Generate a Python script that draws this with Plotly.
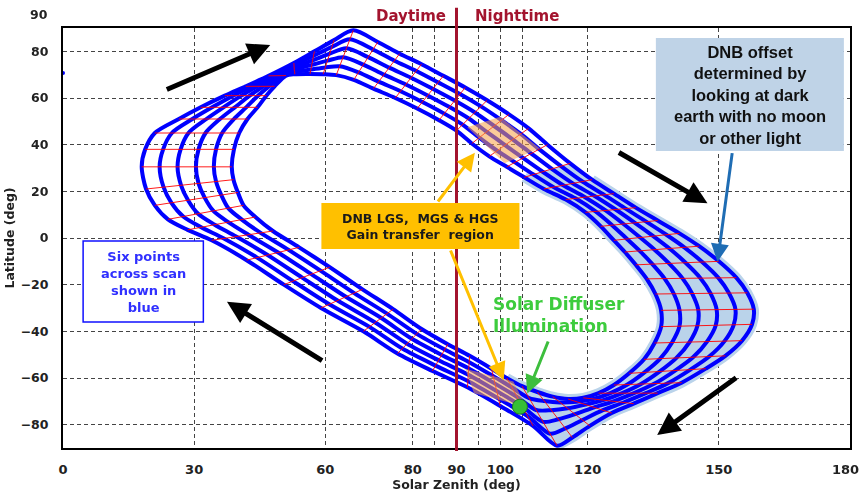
import plotly.graph_objects as go

# ---------------- data ----------------
# six scan positions, sampled at the same orbit instants (stations)
scan1_zenith = [18.0, 18.8, 21.0, 26.5, 31.5, 37.0, 41.8, 47.0, 52.8, 57.5, 62.0, 66.4, 72.0, 77.0, 82.0, 87.0, 92.0, 97.0, 102.0, 106.5, 110.8, 116.0, 121.0, 126.0, 131.0, 136.0, 141.0, 145.5, 150.0, 154.0, 156.5, 158.0, 157.6, 155.3, 151.5, 147.0, 141.5, 136.0, 130.5, 125.5, 120.5, 116.5, 113.0, 107.5, 100.0, 92.5, 84.5, 76.5, 68.7, 59.0, 50.5, 42.0, 34.0, 28.5, 24.0, 21.0, 19.0]
scan1_lat = [30.5, 38.0, 45.0, 51.0, 56.0, 61.0, 65.0, 69.5, 75.0, 80.0, 84.8, 89.0, 84.0, 79.0, 74.5, 69.5, 64.5, 59.0, 53.0, 47.0, 40.0, 32.0, 25.0, 19.0, 13.0, 7.5, 2.0, -3.5, -10.0, -17.0, -23.5, -30.5, -37.0, -44.0, -50.5, -56.0, -62.0, -66.5, -71.0, -75.0, -80.5, -85.5, -89.0, -80.5, -72.0, -64.0, -57.0, -49.5, -40.0, -30.0, -20.0, -9.5, -1.0, 3.5, 8.0, 14.0, 21.0]

scan2_zenith = [22.1, 22.9, 24.9, 29.6, 34.1, 38.9, 43.1, 47.8, 52.8, 57.3, 61.5, 65.6, 70.9, 75.8, 80.8, 85.8, 90.8, 95.6, 100.3, 104.7, 108.9, 113.9, 118.8, 123.8, 128.7, 133.4, 138.0, 142.1, 146.2, 149.9, 152.3, 153.8, 153.4, 151.3, 147.8, 143.5, 138.4, 133.3, 128.2, 123.5, 118.8, 114.9, 111.4, 106.3, 99.6, 92.6, 85.2, 77.6, 70.1, 60.9, 52.6, 44.4, 36.8, 31.6, 27.5, 24.8, 23.0]
scan2_lat = [30.5, 38.0, 45.0, 51.0, 56.0, 61.0, 65.0, 69.5, 74.0, 78.1, 81.9, 85.2, 80.8, 76.0, 71.6, 66.7, 61.7, 56.4, 50.5, 44.6, 38.1, 30.8, 24.2, 18.5, 12.6, 7.0, 1.4, -4.0, -10.3, -17.1, -23.6, -30.6, -37.2, -44.2, -50.8, -56.4, -62.2, -66.5, -70.5, -73.8, -78.0, -81.6, -83.9, -76.4, -68.8, -61.3, -54.7, -47.4, -38.1, -28.4, -18.5, -8.4, -0.2, 4.6, 9.2, 15.1, 21.8]

scan3_zenith = [26.2, 26.9, 28.7, 32.8, 36.7, 40.8, 44.4, 48.6, 52.9, 57.1, 61.0, 64.8, 69.8, 74.6, 79.6, 84.6, 89.6, 94.2, 98.6, 102.9, 107.1, 111.8, 116.6, 121.6, 126.4, 130.8, 135.0, 138.7, 142.4, 145.8, 148.1, 149.5, 149.3, 147.3, 144.1, 140.0, 135.3, 130.6, 125.9, 121.5, 117.1, 113.3, 109.8, 105.1, 99.2, 92.7, 85.9, 78.7, 71.4, 62.8, 54.7, 46.8, 39.6, 34.7, 30.9, 28.6, 27.0]
scan3_lat = [30.5, 38.0, 45.0, 51.0, 56.0, 61.0, 65.0, 69.5, 73.1, 76.1, 79.0, 81.3, 77.5, 73.0, 68.7, 63.9, 58.9, 53.8, 48.0, 42.2, 36.2, 29.6, 23.4, 18.0, 12.2, 6.5, 0.8, -4.5, -10.6, -17.2, -23.7, -30.7, -37.4, -44.4, -51.1, -56.8, -62.4, -66.5, -70.0, -72.6, -75.5, -77.7, -78.8, -72.3, -65.6, -58.6, -52.4, -45.3, -36.2, -26.8, -17.0, -7.3, 0.6, 5.7, 10.4, 16.2, 22.6]

scan4_zenith = [30.4, 31.0, 32.6, 35.9, 39.3, 42.7, 45.8, 49.4, 52.9, 56.9, 60.5, 64.1, 68.7, 73.4, 78.4, 83.4, 88.4, 92.8, 96.9, 101.1, 105.2, 109.7, 114.4, 119.4, 124.1, 128.2, 132.0, 135.3, 138.6, 141.7, 143.9, 145.3, 145.1, 143.3, 140.3, 136.5, 132.2, 127.9, 123.6, 119.5, 115.4, 111.7, 108.2, 103.9, 98.8, 92.8, 86.6, 79.8, 72.8, 64.7, 56.8, 49.2, 42.4, 37.8, 34.4, 32.4, 31.0]
scan4_lat = [30.5, 38.0, 45.0, 51.0, 56.0, 61.0, 65.0, 69.5, 72.1, 74.2, 76.0, 77.5, 74.3, 70.0, 65.8, 61.1, 56.1, 51.2, 45.5, 39.8, 34.3, 28.4, 22.6, 17.5, 11.8, 6.0, 0.2, -5.0, -10.9, -17.3, -23.8, -30.8, -37.6, -44.6, -51.4, -57.2, -62.6, -66.5, -69.5, -71.4, -73.0, -73.8, -73.7, -68.2, -62.4, -55.9, -50.1, -43.2, -34.3, -25.2, -15.5, -6.2, 1.4, 6.8, 11.6, 17.3, 23.4]

scan5_zenith = [34.5, 35.0, 36.4, 39.1, 41.9, 44.6, 47.1, 50.2, 53.0, 56.7, 60.0, 63.3, 67.6, 72.2, 77.2, 82.2, 87.2, 91.4, 95.2, 99.3, 103.4, 107.6, 112.2, 117.2, 121.8, 125.6, 129.0, 131.9, 134.8, 137.6, 139.7, 141.0, 141.0, 139.3, 136.6, 133.0, 129.1, 125.2, 121.3, 117.5, 113.7, 110.1, 106.6, 102.7, 98.4, 92.9, 87.3, 80.9, 74.1, 66.6, 58.9, 51.6, 45.2, 40.9, 37.8, 36.2, 35.0]
scan5_lat = [30.5, 38.0, 45.0, 51.0, 56.0, 61.0, 65.0, 69.5, 71.2, 72.2, 73.1, 73.6, 71.0, 67.0, 62.9, 58.3, 53.3, 48.6, 43.0, 37.4, 32.4, 27.2, 21.8, 17.0, 11.4, 5.5, -0.4, -5.5, -11.2, -17.4, -23.9, -30.9, -37.8, -44.8, -51.7, -57.6, -62.8, -66.5, -69.0, -70.2, -70.5, -69.9, -68.6, -64.1, -59.2, -53.2, -47.8, -41.1, -32.4, -23.6, -14.0, -5.1, 2.2, 7.9, 12.8, 18.4, 24.2]

scan6_zenith = [38.6, 39.1, 40.3, 42.2, 44.5, 46.5, 48.4, 51.0, 53.0, 56.5, 59.5, 62.5, 66.5, 71.0, 76.0, 81.0, 86.0, 90.0, 93.5, 97.5, 101.5, 105.5, 110.0, 115.0, 119.5, 123.0, 126.0, 128.5, 131.0, 133.5, 135.5, 136.8, 136.8, 135.3, 132.9, 129.5, 126.0, 122.5, 119.0, 115.5, 112.0, 108.5, 105.0, 101.5, 98.0, 93.0, 88.0, 82.0, 75.5, 68.5, 61.0, 54.0, 48.0, 44.0, 41.3, 40.0, 39.0]
scan6_lat = [30.5, 38.0, 45.0, 51.0, 56.0, 61.0, 65.0, 69.6, 70.2, 70.3, 70.2, 69.8, 67.8, 64.0, 60.0, 55.5, 50.5, 46.0, 40.5, 35.0, 30.5, 26.0, 21.0, 16.5, 11.0, 5.0, -1.0, -6.0, -11.5, -17.5, -24.0, -31.0, -38.0, -45.0, -52.0, -58.0, -63.0, -66.5, -68.5, -69.0, -68.0, -66.0, -63.5, -60.0, -56.0, -50.5, -45.5, -39.0, -30.5, -22.0, -12.5, -4.0, 3.0, 9.0, 14.0, 19.5, 25.0]

# gain transfer patches (corners)
upper_patch_zenith = [92.5, 100.0, 109.0, 101.0]
upper_patch_lat = [47.5, 52.0, 38.5, 32.0]
lower_patch_zenith = [92.0, 103.0, 106.0, 94.0]
lower_patch_lat = [-56.0, -61.5, -72.5, -66.5]

# solar diffuser point and stray point
diffuser_zenith = [104.5]
diffuser_lat = [-72.3]
stray_zenith = [0.0]
stray_lat = [70.7]

x_tickvals = [0, 30, 60, 80, 90, 100, 120, 150, 180]
x_minor_grid = [85, 95, 105]
y_tickvals = [-80, -60, -40, -20, 0, 20, 40, 60, 80, 90]

# ---------------- figure ----------------
scans = [(scan1_zenith, scan1_lat), (scan2_zenith, scan2_lat), (scan3_zenith, scan3_lat),
         (scan4_zenith, scan4_lat), (scan5_zenith, scan5_lat), (scan6_zenith, scan6_lat)]
n = len(scan1_zenith)
LIGHT = '#BAD3EA'
BLUE = '#0000FF'
DARKRED = '#A3142E'
FONT = 'DejaVu Sans'
TICKFONT = dict(family=FONT, size=12.5, color='#222222', weight='bold')
XTICKFONT = dict(family=FONT, size=13, color='#222222', weight='bold')

fig = go.Figure()

# night-side light blue halo + fill
fig.add_trace(go.Scatter(x=scan1_zenith[22:43], y=scan1_lat[22:43], mode='lines',
                         line=dict(color=LIGHT, width=10, shape='spline'), hoverinfo='skip'))
fig.add_trace(go.Scatter(x=scan6_zenith[21:44], y=scan6_lat[21:44], mode='lines',
                         line=dict(color=LIGHT, width=10, shape='spline'), hoverinfo='skip'))
fig.add_trace(go.Scatter(x=scan1_zenith[21:44] + scan6_zenith[21:44][::-1],
                         y=scan1_lat[21:44] + scan6_lat[21:44][::-1],
                         mode='lines', fill='toself', fillcolor=LIGHT,
                         line=dict(width=0, shape='spline', color=LIGHT), hoverinfo='skip'))

# six scan loops
for zx, zy in scans:
    fig.add_trace(go.Scatter(x=zx + zx[:1], y=zy + zy[:1], mode='lines',
                             line=dict(color=BLUE, width=4, shape='spline', smoothing=0.8),
                             hoverinfo='skip'))

# red cross-scan lines joining the six points of each scan
rx, ry = [], []
for i in range(n):
    for zx, zy in scans:
        rx.append(zx[i]); ry.append(zy[i])
    rx.append(None); ry.append(None)
fig.add_trace(go.Scatter(x=rx, y=ry, mode='lines', line=dict(color='#FF0000', width=1),
                         opacity=0.9, hoverinfo='skip'))

# orange patches
for px_, py_ in [(upper_patch_zenith, upper_patch_lat), (lower_patch_zenith, lower_patch_lat)]:
    fig.add_trace(go.Scatter(x=px_ + px_[:1], y=py_ + py_[:1], mode='lines', fill='toself',
                             fillcolor='rgba(248,160,70,0.55)', line=dict(width=0),
                             hoverinfo='skip'))

# diffuser dot and stray point
fig.add_trace(go.Scatter(x=diffuser_zenith, y=diffuser_lat, mode='markers',
                         marker=dict(size=15, color='#36BF36', line=dict(color='#1E7A1E', width=1)),
                         hoverinfo='skip'))
fig.add_trace(go.Scatter(x=stray_zenith, y=stray_lat, mode='markers', cliponaxis=False,
                         marker=dict(size=4, color=BLUE), hoverinfo='skip'))

# shapes: day/night line and text boxes
shapes = [
    dict(type='line', xref='x', yref='paper', x0=90, x1=90, y0=-0.007, y1=1.048,
         line=dict(color=DARKRED, width=3), layer='above'),
    dict(type='rect', xref='x', yref='y', x0=4.6, x1=32.1, y0=-36.0, y1=-1.3,
         fillcolor='white', line=dict(color='#1010FF', width=1.5), layer='above'),
    dict(type='rect', xref='x', yref='y', x0=59.1, x1=104.4, y0=-4.7, y1=15.0,
         fillcolor='#FFC000', line=dict(width=0), layer='above'),
    dict(type='rect', xref='x', yref='y', x0=135.6, x1=178.6, y0=37.3, y1=85.7,
         fillcolor='#BFD3E7', line=dict(width=0), layer='above'),
]

def arrow(tip, tail, color, width, size=1.0, head=2):
    return dict(x=tip[0], y=tip[1], ax=tail[0], ay=tail[1], xref='x', yref='y',
                axref='x', ayref='y', showarrow=True, arrowhead=head, arrowsize=size,
                arrowwidth=width, arrowcolor=color, text='')

annotations = [
    arrow((47.4, 82.7), (23.4, 63.4), 'black', 5, 0.9),
    arrow((147.4, 14.9), (126.8, 37.0), 'black', 5, 0.9),
    arrow((135.9, -84.4), (154.3, -59.4), 'black', 5, 0.9),
    arrow((37.5, -27.3), (59.6, -53.0), 'black', 5, 0.9),
    arrow((94.2, 36.5), (85.5, 15.0), '#FFC000', 3, 1.2),
    arrow((100.8, -61.0), (88.5, -4.7), '#FFC000', 3, 1.2),
    arrow((106.2, -66.6), (111.1, -43.7), '#3DBE3D', 3, 1.2),
    arrow((149.7, -10.2), (153.1, 37.0), '#1F6DB4', 3, 1.2),
    # top latitude label sits above the frame in the reference
    dict(x=-0.017, y=1.033, xref='paper', yref='paper', text=str(y_tickvals[-1]),
         showarrow=False, xanchor='right', yanchor='middle', font=TICKFONT),
    # last zenith label is pulled in from the right edge
    dict(x=1.0135, y=-0.05, xref='paper', yref='paper', text=str(x_tickvals[-1]),
         showarrow=False, xanchor='right', yanchor='middle', font=XTICKFONT),
    dict(x=79.7, y=1.0286, xref='x', yref='paper', text='Daytime', showarrow=False,
         font=dict(family=FONT, size=15, color=DARKRED, weight='bold'), yanchor='middle'),
    dict(x=103.8, y=1.0286, xref='x', yref='paper', text='Nighttime', showarrow=False,
         font=dict(family=FONT, size=15, color=DARKRED, weight='bold'), yanchor='middle'),
    dict(x=18.3, y=-18.9, xref='x', yref='y', text='Six points<br>across scan<br>shown in<br>blue',
         showarrow=False, align='center',
         font=dict(family=FONT, size=13, color='#3030FF', weight='bold')),
    dict(x=81.7, y=5.1, xref='x', yref='y', text='DNB LGS,  MGS & HGS<br>Gain transfer  region',
         showarrow=False, align='center',
         font=dict(family=FONT, size=12.5, color='#1A1A1A', weight='bold')),
    dict(x=157.1, y=61.3, xref='x', yref='y',
         text='DNB offset<br>determined by<br>looking at dark<br>earth with no moon<br>or other light',
         showarrow=False, align='center',
         font=dict(family='Liberation Sans', size=16.5, color='#111111', weight='bold')),
    dict(x=97.8, y=-32.8, xref='x', yref='y', text='Solar Diffuser<br>Illumination',
         showarrow=False, align='left', xanchor='left',
         font=dict(family=FONT, size=17, color='#3DCC3D', weight='bold')),
]

grid = dict(showgrid=True, gridcolor='#444444', gridwidth=1, griddash='4px,3px')

fig.update_layout(
    width=862, height=492,
    margin=dict(l=63, r=12, t=28, b=44, autoexpand=False),
    paper_bgcolor='white', plot_bgcolor='white',
    showlegend=False,
    shapes=shapes, annotations=annotations,
    xaxis=dict(range=[0, 180], tickvals=x_tickvals[:-1], ticks='', ticklabelstandoff=8,
               automargin=False, ticklabeloverflow='allow', tickfont=XTICKFONT,
               showline=True, linecolor='black', linewidth=2, mirror=True, zeroline=False,
               minor=dict(tickvals=x_minor_grid, showgrid=True, gridcolor='#444444',
                          gridwidth=1, griddash='4px,3px'),
               title=dict(text='Solar Zenith (deg)', standoff=3,
                          font=dict(family=FONT, size=12.5, color='#222222', weight='bold')),
               **grid),
    yaxis=dict(range=[-90, 90], tickvals=y_tickvals[:-1], ticks='', ticklabelstandoff=10,
               automargin=False, tickfont=TICKFONT, ticklabeloverflow='allow',
               showline=True, linecolor='black', linewidth=2, mirror=True, zeroline=False,
               title=dict(text='Latitude (deg)', standoff=3,
                          font=dict(family=FONT, size=12.5, color='#222222', weight='bold')),
               **grid),
)

fig.write_html('out.html')
